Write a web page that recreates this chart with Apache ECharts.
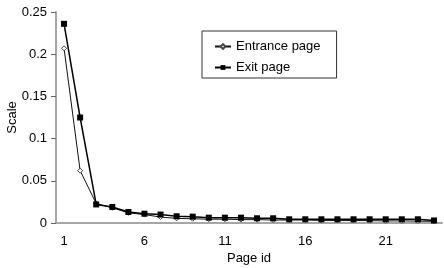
<!DOCTYPE html>
<html>
<head>
<meta charset="utf-8">
<script src="https://cdn.jsdelivr.net/npm/echarts@6/dist/echarts.min.js"></script>
<style>
  html, body { margin: 0; padding: 0; background: #fff; }
  #chart { width: 444px; height: 268px; }
</style>
</head>
<body>
<div id="chart"></div>
<script>
const pageIds = Array.from({ length: 24 }, (_, i) => String(i + 1));
const entrance = [0.207, 0.062, 0.023, 0.018, 0.012, 0.010, 0.007, 0.0055, 0.005, 0.0045, 0.0045, 0.004,
  0.004, 0.0035, 0.0035, 0.0035, 0.003, 0.003, 0.003, 0.0028, 0.0025, 0.0025, 0.0022, 0.002];
const exit = [0.236, 0.125, 0.022, 0.019, 0.013, 0.011, 0.010, 0.008, 0.0075, 0.0063, 0.0063, 0.0063,
  0.0056, 0.0056, 0.0044, 0.0044, 0.0044, 0.0044, 0.0044, 0.0044, 0.0044, 0.0044, 0.0044, 0.003];
const yTicks = ['0', '0.05', '0.1', '0.15', '0.2', '0.25'];

const font = 'Liberation Sans, Arial, sans-serif';
const axisGray = '#a6a6a6';

const chart = echarts.init(document.getElementById('chart'), null, { renderer: 'canvas' });
chart.setOption({
  animation: false,
  grid: { left: 56, right: 2, top: 12, bottom: 45, containLabel: false, outerBoundsMode: 'none' },
  legend: {
    left: 202, top: 31,
    orient: 'vertical',
    itemGap: 8,
    itemWidth: 16, itemHeight: 6,
    padding: [9, 16, 4, 12],
    borderColor: '#333', borderWidth: 1,
    textStyle: { fontFamily: font, fontSize: 13, color: '#000' },
    data: ['Entrance page', 'Exit page']
  },
  xAxis: {
    type: 'category',
    data: pageIds,
    boundaryGap: true,
    name: 'Page id',
    nameLocation: 'middle',
    nameGap: 29,
    nameMoveOverlap: false,
    nameTextStyle: { fontFamily: font, fontSize: 13, color: '#000' },
    axisLine: { lineStyle: { color: axisGray, width: 2 } },
    axisTick: { lineStyle: { color: '#666' }, length: 5, interval: 0 },
    axisLabel: { interval: 4, fontFamily: font, fontSize: 13, color: '#000', margin: 12 },
    splitLine: { show: false }
  },
  yAxis: {
    type: 'value',
    min: 0, max: 0.25, interval: 0.05,
    name: 'Scale',
    nameLocation: 'middle',
    nameGap: 37,
    nameMoveOverlap: false,
    nameTextStyle: { fontFamily: font, fontSize: 13, color: '#000' },
    axisLine: { show: true, lineStyle: { color: axisGray, width: 2 } },
    axisTick: { show: true, lineStyle: { color: '#666' }, length: 5 },
    axisLabel: {
      fontFamily: font, fontSize: 13, color: '#000', margin: 9,
      formatter: (v) => yTicks[Math.round(v / 0.05)]
    },
    splitLine: { show: false }
  },
  series: [
    {
      name: 'Entrance page',
      type: 'line',
      data: entrance,
      symbol: 'diamond',
      symbolSize: 5,
      itemStyle: { color: '#fff', borderColor: '#444', borderWidth: 1 },
      lineStyle: { color: '#111', width: 1 },
      z: 2
    },
    {
      name: 'Exit page',
      type: 'line',
      data: exit,
      symbol: 'rect',
      symbolSize: 6,
      itemStyle: { color: '#000' },
      lineStyle: { color: '#000', width: 1.5 },
      z: 3
    }
  ]
});
</script>
</body>
</html>
